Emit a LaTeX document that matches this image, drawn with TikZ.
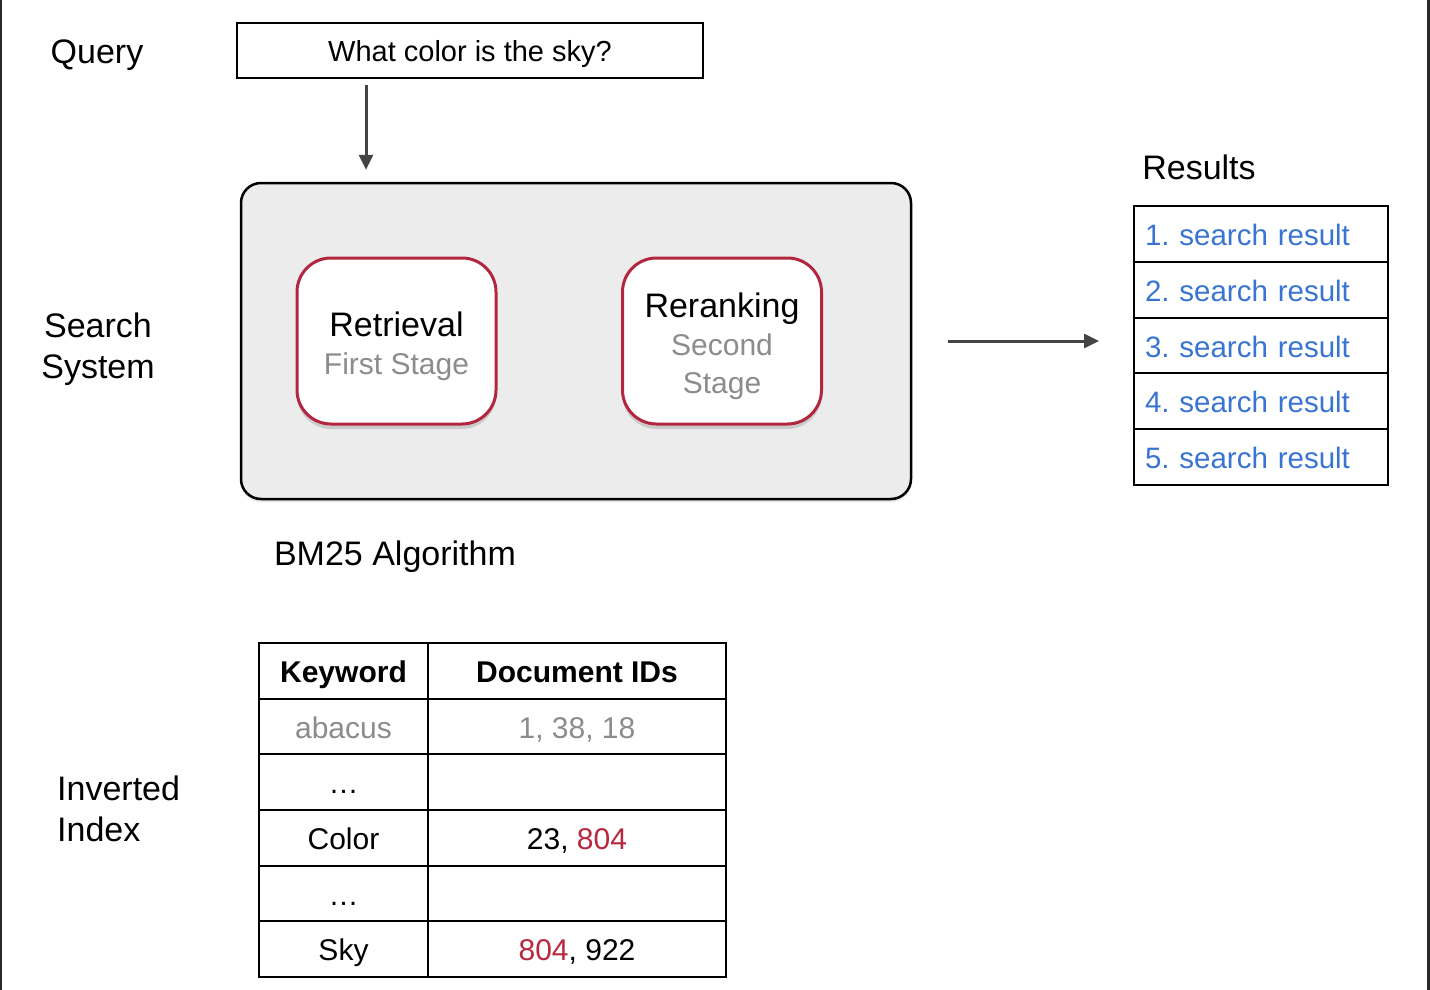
\documentclass[tikz,border=0pt]{standalone}
\usepackage{fontspec}
\setmainfont{Liberation Sans}
\frenchspacing
\usetikzlibrary{arrows.meta,shadows,calc}
\definecolor{boxgray}{HTML}{ECECEC}
\definecolor{crim}{HTML}{B3263F}
\definecolor{resblue}{HTML}{3A74D2}
\definecolor{subgray}{HTML}{8C8C8C}
\definecolor{arrgray}{HTML}{444444}
\definecolor{idred}{HTML}{B8283E}
\definecolor{framegray}{HTML}{2A2A2A}
\begin{document}
\begin{tikzpicture}[x=1pt,y=-1pt,
  lbl/.style={font=\fontsize{34}{41}\selectfont, inner sep=0pt},
  stagebox/.style={draw=crim, line width=3pt, fill=white, rounded corners=34pt,
    minimum width=199pt, minimum height=166pt,
    drop shadow={shadow xshift=0pt, shadow yshift=-5pt, opacity=0.3}},
  stagetext/.style={align=center, inner sep=0pt, font=\fontsize{30}{38}\selectfont},
  sysbox/.style={draw=black, line width=2.5pt, fill=boxgray, rounded corners=20pt,
    minimum width=670pt, minimum height=316pt,
    drop shadow={shadow xshift=0pt, shadow yshift=-3pt, opacity=0.2}},
  qbox/.style={draw=black, line width=2pt, minimum width=466pt, minimum height=55pt,
    inner ysep=0pt, font=\fontsize{29}{35}\selectfont, text height=26pt, text depth=3pt},
  cell/.style={draw=black, line width=2.2pt, minimum height=55.67pt, inner sep=0pt,
    font=\fontsize{30}{36}\selectfont, text height=26pt, text depth=3pt},
  kwcell/.style={cell, minimum width=169pt},
  idcell/.style={cell, minimum width=298pt},
  resrow/.style={draw=black, line width=2pt, minimum width=254pt, minimum height=55.8pt,
    text width=232pt, align=left, inner xsep=11pt, inner ysep=0pt,
    font=\fontsize{29.5}{36}\selectfont, text=resblue, text height=26pt, text depth=3pt},
  arr/.style={draw=arrgray, line width=3pt, -{Triangle[length=15pt,width=14pt]}}
]
\useasboundingbox (0,0) rectangle (1430,990);
\fill[white] (0,0) rectangle (1430,990);
\draw[line width=2pt, framegray] (1,0) -- (1,990);
\draw[line width=3pt, framegray] (1428,0) -- (1428,990);

% left labels
\node[lbl] (lquery) at (97,55) {Query};
\node[lbl, align=center] (lsys) at (98,349) {Search\\System};
\node[lbl, align=left, anchor=west] (linv) at (57,809) {Inverted\\Index};
\node[lbl] (lbm) at (395,557) {BM25 Algorithm};
\node[lbl] (lres) at (1199,167) {Results};

% query
\node[qbox] (query) at (470,50.5) {What color is the sky?};

% search system
\node[sysbox] (sys) at (576,341) {};
\node[stagebox] (ret) at (396.5,341) {};
\node[stagetext] (rett) at ([yshift=-5pt]ret.center) {{\fontsize{34}{38}\selectfont Retrieval}\\{\color{subgray}First Stage}};
\node[stagebox] (rer) at (722,341) {};
\node[stagetext] (rert) at ([yshift=-5pt]rer.center) {{\fontsize{34}{38}\selectfont Reranking}\\{\color{subgray}Second}\\{\color{subgray}Stage}};

% results
\node[resrow] (r1) at (1261,233.9) {1. search result};
\node[resrow] (r2) at (1261,289.7) {2. search result};
\node[resrow] (r3) at (1261,345.5) {3. search result};
\node[resrow] (r4) at (1261,401.3) {4. search result};
\node[resrow] (r5) at (1261,457.1) {5. search result};

% arrows
\draw[arr, shorten <=6pt, shorten >=12pt] ([xshift=-104pt]query.south) -- ([xshift=-104pt]query.south |- sys.north);
\draw[arr, shorten <=36pt, shorten >=34pt] (sys.east) -- (sys.east -| r3.west);

% inverted index table
\node[kwcell, font=\fontsize{30}{36}\selectfont\bfseries] (k0) at (343.5,670.8) {Keyword};
\node[idcell, font=\fontsize{30}{36}\selectfont\bfseries] (d0) at (577,670.8) {Document IDs};
\node[kwcell, text=subgray] (k1) at (343.5,726.5) {abacus};
\node[idcell, text=subgray] (d1) at (577,726.5) {1, 38, 18};
\node[kwcell] (k2) at (343.5,782.2) {…};
\node[idcell] (d2) at (577,782.2) {};
\node[kwcell] (k3) at (343.5,837.8) {Color};
\node[idcell] (d3) at (577,837.8) {23, {\color{idred}804}};
\node[kwcell] (k4) at (343.5,893.5) {…};
\node[idcell] (d4) at (577,893.5) {};
\node[kwcell] (k5) at (343.5,949.2) {Sky};
\node[idcell] (d5) at (577,949.2) {{\color{idred}804}, 922};
\end{tikzpicture}
\end{document}
